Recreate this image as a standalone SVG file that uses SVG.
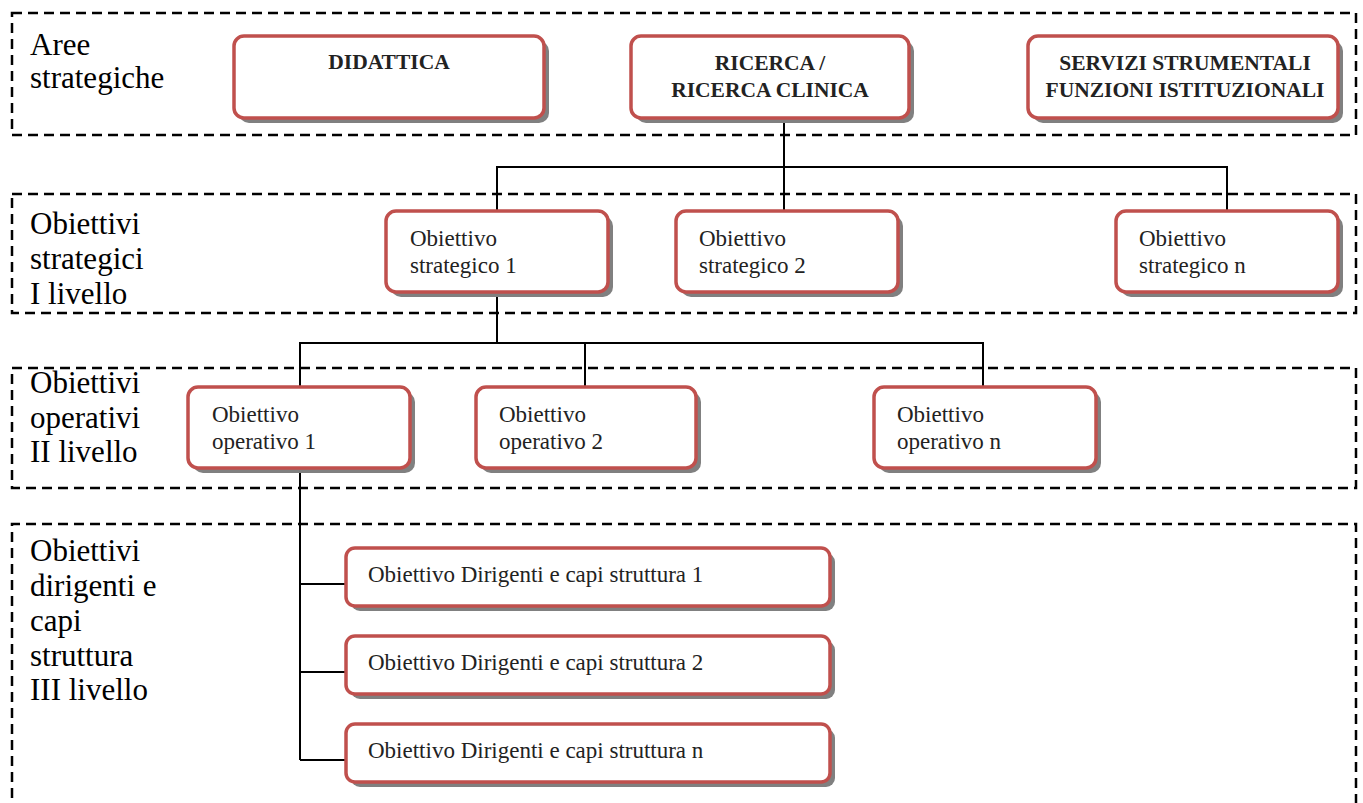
<svg xmlns="http://www.w3.org/2000/svg" width="1363" height="803" viewBox="0 0 1363 803">
  <style>
    .frame { fill: none; stroke: #000; stroke-width: 2.5; stroke-dasharray: 10 6; }
    .lbl { font-family: "Liberation Serif", "Times New Roman", serif; font-size: 31px; fill: #000; }
    .shadow { fill: #808080; }
    .box { fill: #fff; stroke: #C0504D; stroke-width: 3.5; }
    .t { font-family: "Liberation Serif", "Times New Roman", serif; font-size: 23px; fill: #222; }
    .tb { font-family: "Liberation Serif", "Times New Roman", serif; font-size: 21.5px; font-weight: bold; fill: #222; text-anchor: middle; }
    .conn { fill: none; stroke: #000; stroke-width: 2; }
  </style>

  <rect width="1363" height="803" fill="#fff"/>

  <!-- dashed level frames -->
  <g id="frames">
    <rect class="frame" x="12" y="13" width="1344" height="122"/>
    <rect class="frame" x="12" y="194" width="1344" height="119"/>
    <rect class="frame" x="12" y="368" width="1344" height="120"/>
    <path class="frame" d="M12,830 V524 H1356 V830"/>
  </g>

  <!-- level captions -->
  <g id="labels">
    <text class="lbl"><tspan x="30" y="55">Aree</tspan><tspan x="30" y="88">strategiche</tspan></text>
    <text class="lbl"><tspan x="30" y="234">Obiettivi</tspan><tspan x="30" y="269">strategici</tspan><tspan x="30" y="304">I livello</tspan></text>
    <text class="lbl"><tspan x="30" y="393">Obiettivi</tspan><tspan x="30" y="428">operativi</tspan><tspan x="30" y="462">II livello</tspan></text>
    <text class="lbl"><tspan x="30" y="561">Obiettivi</tspan><tspan x="30" y="596">dirigenti e</tspan><tspan x="30" y="631">capi</tspan><tspan x="30" y="666">struttura</tspan><tspan x="30" y="700">III livello</tspan></text>
  </g>

  <!-- connectors -->
  <g id="connectors">
    <path class="conn" d="M784,120 V167 M497,211 V167 H1227 V211 M784,167 V211"/>
    <path class="conn" d="M497,292 V343 M300,387 V343 H983 V387 M585,343 V387"/>
    <path class="conn" d="M300,468 V760 M300,584 H346 M300,672 H346 M300,760 H346"/>
  </g>

  <!-- strategic areas -->
  <g id="didattica">
    <rect class="shadow" x="239" y="41" width="310" height="82" rx="10"/>
    <rect class="box" x="234" y="36" width="310" height="82" rx="10"/>
    <text class="tb" x="389" y="69">DIDATTICA</text>
  </g>
  <g id="ricerca">
    <rect class="shadow" x="636" y="41" width="278" height="82" rx="10"/>
    <rect class="box" x="631" y="36" width="278" height="82" rx="10"/>
    <text class="tb" x="770" y="70">RICERCA /</text>
    <text class="tb" x="770" y="97">RICERCA CLINICA</text>
  </g>
  <g id="servizi">
    <rect class="shadow" x="1033" y="41" width="310" height="82" rx="10"/>
    <rect class="box" x="1028" y="36" width="310" height="82" rx="10"/>
    <text class="tb" x="1185" y="70">SERVIZI STRUMENTALI</text>
    <text class="tb" x="1185" y="97">FUNZIONI ISTITUZIONALI</text>
  </g>

  <!-- first-level strategic objectives -->
  <g id="strategico-1">
    <rect class="shadow" x="391" y="216" width="222" height="81" rx="10"/>
    <rect class="box" x="386" y="211" width="222" height="81" rx="10"/>
    <text class="t" x="410" y="246">Obiettivo</text>
    <text class="t" x="410" y="273">strategico 1</text>
  </g>
  <g id="strategico-2">
    <rect class="shadow" x="681" y="216" width="222" height="81" rx="10"/>
    <rect class="box" x="676" y="211" width="222" height="81" rx="10"/>
    <text class="t" x="699" y="246">Obiettivo</text>
    <text class="t" x="699" y="273">strategico 2</text>
  </g>
  <g id="strategico-n">
    <rect class="shadow" x="1121" y="216" width="222" height="81" rx="10"/>
    <rect class="box" x="1116" y="211" width="222" height="81" rx="10"/>
    <text class="t" x="1139" y="246">Obiettivo</text>
    <text class="t" x="1139" y="273">strategico n</text>
  </g>

  <!-- second-level operational objectives -->
  <g id="operativo-1">
    <rect class="shadow" x="193" y="392" width="222" height="81" rx="10"/>
    <rect class="box" x="188" y="387" width="222" height="81" rx="10"/>
    <text class="t" x="212" y="422">Obiettivo</text>
    <text class="t" x="212" y="449">operativo 1</text>
  </g>
  <g id="operativo-2">
    <rect class="shadow" x="481" y="392" width="220" height="81" rx="10"/>
    <rect class="box" x="476" y="387" width="220" height="81" rx="10"/>
    <text class="t" x="499" y="422">Obiettivo</text>
    <text class="t" x="499" y="449">operativo 2</text>
  </g>
  <g id="operativo-n">
    <rect class="shadow" x="879" y="392" width="222" height="81" rx="10"/>
    <rect class="box" x="874" y="387" width="222" height="81" rx="10"/>
    <text class="t" x="897" y="422">Obiettivo</text>
    <text class="t" x="897" y="449">operativo n</text>
  </g>

  <!-- third-level objectives for managers -->
  <g id="dirigenti-1">
    <rect class="shadow" x="351" y="553" width="484" height="58" rx="9"/>
    <rect class="box" x="346" y="548" width="484" height="58" rx="9"/>
    <text class="t" x="368" y="582">Obiettivo Dirigenti e capi struttura 1</text>
  </g>
  <g id="dirigenti-2">
    <rect class="shadow" x="351" y="641" width="484" height="58" rx="9"/>
    <rect class="box" x="346" y="636" width="484" height="58" rx="9"/>
    <text class="t" x="368" y="670">Obiettivo Dirigenti e capi struttura 2</text>
  </g>
  <g id="dirigenti-n">
    <rect class="shadow" x="351" y="729" width="484" height="58" rx="9"/>
    <rect class="box" x="346" y="724" width="484" height="58" rx="9"/>
    <text class="t" x="368" y="758">Obiettivo Dirigenti e capi struttura n</text>
  </g>
</svg>
